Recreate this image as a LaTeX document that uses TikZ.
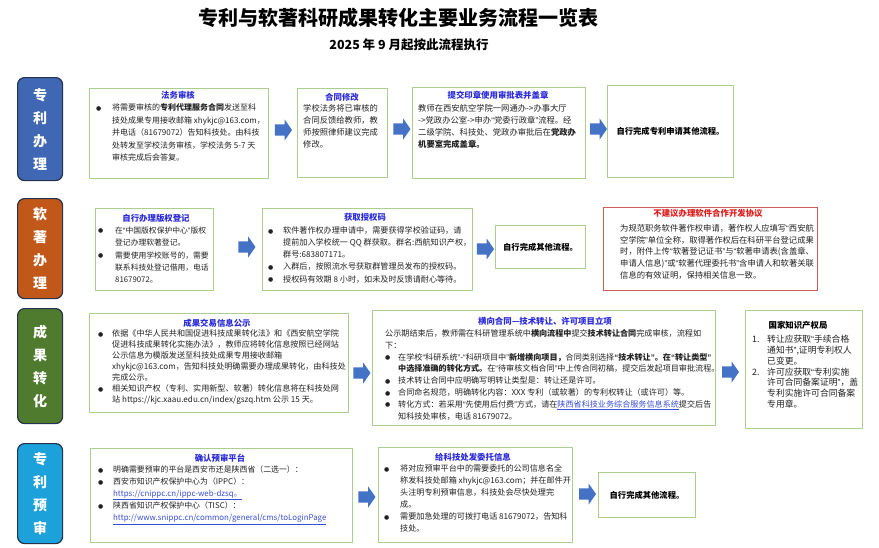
\documentclass[tikz,border=0pt]{standalone}
\usepackage{fontspec}
\setmainfont{Noto Sans CJK SC}
\newfontfamily\dvs{DejaVu Sans}
\newfontfamily\lat{Liberation Sans}
\usetikzlibrary{shapes.arrows}
\definecolor{arrowblue}{HTML}{4472C4}
\definecolor{boxgreen}{HTML}{A9D08E}
\definecolor{boxred}{HTML}{D05A5A}
\definecolor{tblue}{HTML}{2B2BD9}
\definecolor{tred}{HTML}{E01B1B}
\definecolor{linkblue}{HTML}{3A4FD6}
\definecolor{txtc}{HTML}{222222}
\definecolor{lblue}{HTML}{3F67B3}
\definecolor{lorange}{HTML}{C2571A}
\definecolor{lgreen}{HTML}{4F7B2E}
\definecolor{lcyan}{HTML}{1DA1DB}
\definecolor{ledge}{HTML}{25334F}
\newcommand\bl[1]{\makebox[#1][l]{\raisebox{0.3pt}{\dvs\fontsize{6}{6}\selectfont ●}}}
\newcommand\ind[1]{\hspace*{#1}}
\newcommand\oq{{\lat “}}
\newcommand\cq{{\lat ”}}
\newcommand\link[1]{\textcolor{linkblue}{\underline{#1}}}
\tikzset{
  lab/.style={draw=ledge, line width=1.2pt, rounded corners=7pt, minimum width=45pt,
    anchor=north west, inner sep=0pt, text=white, font=\fontsize{14}{23}\selectfont\bfseries, align=center},
  gbox/.style={draw=boxgreen, line width=1pt, anchor=north west, inner sep=0pt},
  rbox/.style={draw=boxred, line width=1pt, anchor=north west, inner sep=0pt},
  btitle/.style={inner sep=0pt, text=tblue, font=\fontsize{8.4}{10}\selectfont\bfseries},
  txt/.style={anchor=north west, inner sep=0pt, align=left, text=txtc},
  done/.style={inner sep=0pt, text=black, font=\fontsize{8.3}{10}\selectfont\bfseries},
  barrow/.style={single arrow, fill=arrowblue, draw=none, minimum height=17pt, minimum width=21pt,
    single arrow head extend=5pt, single arrow head indent=0pt, single arrow tip angle=110,
    inner xsep=0pt, inner ysep=5.5pt}
}
\begin{document}
\begin{tikzpicture}[x=1pt,y=-1pt]
\useasboundingbox (0,0) rectangle (879,547);
\fill[white] (0,0) rectangle (879,547);

% titles
\node[font=\fontsize{20}{24}\selectfont\bfseries] (title) at (398,18) {专利与软著科研成果转化主要业务流程一览表};
\node[font=\fontsize{12.5}{14}\selectfont\bfseries] (sub) at (409,45) {2025 年 9 月起按此流程执行};

% left labels
\node[lab, fill=lblue, minimum height=103pt] (L1) at (17,77) {专\\利\\办\\理};
\node[lab, fill=lorange, minimum height=100pt] (L2) at (17,198) {软\\著\\办\\理};
\node[lab, fill=lgreen, minimum height=115pt] (L3) at (17,308) {成\\果\\转\\化};
\node[lab, fill=lcyan, minimum height=100pt] (L4) at (17,443) {专\\利\\预\\审};

% ---------- row 1 ----------
\node[gbox, minimum width=179pt, minimum height=90pt] (b1) at (89,88) {};
\node[btitle] (h1) at (178,95) {法务审核};
\node[txt, font=\fontsize{8}{12.5}\selectfont] (t1) at (96,103.5) {%
\bl{16pt}将需要审核的\textbf{专利代理服务合同}发送至科\\
\ind{16pt}技处成果专用接收邮箱 xhykjc@163.com，\\
\ind{16pt}并电话（81679072）告知科技处。由科技\\
\ind{16pt}处转发至学校法务审核，学校法务 5-7 天\\
\ind{16pt}审核完成后会答复。};

\node[gbox, minimum width=90pt, minimum height=89pt] (b2) at (297,88) {};
\node[btitle] (h2) at (342,97) {合同修改};
\node[txt, font=\fontsize{8.3}{12}\selectfont] (t2) at (303,104.3) {%
学校法务将已审核的\\合同反馈给教师，教\\师按照律师建议完成\\修改。};

\node[gbox, minimum width=173pt, minimum height=91pt] (b3) at (412,87) {};
\node[btitle] (h3) at (498,95) {提交印章使用审批表并盖章};
\node[txt, font=\fontsize{8.3}{12}\selectfont] (t3) at (418,104.3) {%
教师在西安航空学院一网通办->办事大厅\\
->党政办公室->申办\oq 党委行政章\cq 流程。经\\
二级学院、科技处、党政办审批后在\textbf{党政办}\\
\textbf{机要室完成盖章。}};

\node[gbox, minimum width=126pt, minimum height=92pt] (b4) at (607,85) {};
\node[done] (t4) at (b4.center) {自行完成专利申请其他流程。};

\node[barrow] (a1) at (281.5,130) {};
\node[barrow] (a2) at (400,129) {};
\node[barrow] (a3) at (596.5,129) {};

% ---------- row 2 ----------
\node[gbox, minimum width=118pt, minimum height=82pt] (b5) at (95,208) {};
\node[btitle] (h5) at (156,218) {自行办理版权登记};
\node[txt, font=\fontsize{7.8}{12.4}\selectfont] (t5) at (98,226.5) {%
\bl{17pt}在\oq 中国版权保护中心\cq 版权\\
\ind{17pt}登记办理软著登记。\\
\bl{17pt}需要使用学校账号的，需要\\
\ind{17pt}联系科技处登记借用，电话\\
\ind{17pt}81679072。};

\node[gbox, minimum width=210pt, minimum height=82pt] (b6) at (262,208) {};
\node[btitle] (h6) at (365,217) {获取授权码};
\node[txt, font=\fontsize{8.1}{12.2}\selectfont] (t6) at (268,226.3) {%
\bl{15pt}软件著作权办理申请中，需要获得学校验证码，请\\
\ind{15pt}提前加入学校统一 QQ 群获取。群名:西航知识产权，\\
\ind{15pt}群号:683807171。\\
\bl{15pt}入群后，按照流水号获取群管理员发布的授权码。\\
\bl{15pt}授权码有效期 8 小时，如未及时反馈请耐心等待。};

\node[gbox, minimum width=90pt, minimum height=43pt] (b7) at (495,225) {};
\node[done] (t7) at (b7.center) {自行完成其他流程。};

\node[rbox, minimum width=214pt, minimum height=83pt] (b8) at (603,207) {};
\node[btitle, text=tred] (h8) at (708,213) {不建议办理软件合作开发协议};
\node[txt, font=\fontsize{8.3}{11.7}\selectfont] (t8) at (620,224.3) {%
为规范职务软件著作权申请，著作权人应填写\oq 西安航\\
空学院\cq 单位全称，取得著作权后在科研平台登记成果\\
时，附件上传\oq 软著登记证书\cq 与\oq 软著申请表(含盖章、\\
申请人信息)\cq 或\oq 软著代理委托书\cq 含申请人和软著关联\\
信息的有效证明，保持相关信息一致。};

\node[barrow] (a4) at (245,247) {};
\node[barrow] (a5) at (483.5,249) {};

% ---------- row 3 ----------
\node[gbox, minimum width=259pt, minimum height=99pt] (b9) at (89,313) {};
\node[btitle] (h9) at (217,323) {成果交易信息公示};
\node[txt, font=\fontsize{8.1}{11}\selectfont] (t9) at (98,329.3) {%
\bl{14pt}依据《中华人民共和国促进科技成果转化法》和《西安航空学院\\
\ind{14pt}促进科技成果转化实施办法》，教师应将转化信息按照已经网站\\
\ind{14pt}公示信息为模版发送至科技处成果专用接收邮箱\\
\ind{14pt}xhykjc@163.com，告知科技处明确需要办理成果转化，由科技处\\
\ind{14pt}完成公示。\\
\bl{14pt}相关知识产权（专利、实用新型、软著）转化信息将在科技处网\\
\ind{14pt}站 https://kjc.xaau.edu.cn/index/gszq.htm 公示 15 天。};

\node[gbox, minimum width=343pt, minimum height=115pt] (b10) at (372,310) {};
\node[btitle] (h10) at (545,321) {横向合同—技术转让、许可项目立项};
\node[txt, font=\fontsize{8.1}{11.8}\selectfont] (t10) at (385,329.3) {%
公示期结束后，教师需在科研管理系统中\textbf{横向流程中}提交\textbf{技术转让合同}完成审核，流程如\\
下：\\
\bl{13pt}在学校\oq 科研系统\cq -\oq 科研项目中\cq \textbf{新增横向项目，}合同类别选择\textbf{\oq 技术转让\cq 。在\oq 转让类型\cq}\\
\ind{13pt}\textbf{中选择准确的转化方式。}在\oq 待审核文档合同\cq 中上传合同初稿，提交后发起项目审批流程。\\
\bl{13pt}技术转让合同中应明确写明转让类型是：转让还是许可。\\
\bl{13pt}合同命名规范，明确转化内容：XXX 专利（或软著）的专利权转让（或许可）等。\\
\bl{13pt}转化方式：若采用\oq 先使用后付费\cq 方式，请在\link{陕西省科技业务综合服务信息系统}提交后告\\
\ind{13pt}知科技处审核，电话 81679072。};

\node[gbox, minimum width=117pt, minimum height=118pt] (b11) at (745,310) {};
\node[btitle, text=black] (h11) at (798,325) {国家知识产权局};
\node[txt, font=\fontsize{8.8}{10.8}\selectfont] (t11) at (752,335) {%
\makebox[15pt][l]{1.}转让应获取\oq 手续合格\\
\ind{15pt}通知书\cq ,证明专利权人\\
\ind{15pt}已变更。\\
\makebox[15pt][l]{2.}许可应获取\oq 专利实施\\
\ind{15pt}许可合同备案证明\cq ，盖\\
\ind{15pt}专利实施许可合同备案\\
\ind{15pt}专用章。};

\node[barrow] (a6) at (360,373) {};
\node[barrow] (a7) at (728.5,372) {};

% ---------- row 4 ----------
\node[gbox, minimum width=262pt, minimum height=94pt] (b12) at (90,448) {};
\node[btitle] (h12) at (220,458) {确认预审平台};
\node[txt, font=\fontsize{7.9}{12}\selectfont] (t12) at (98,465.4) {%
\bl{15pt}明确需要预审的平台是西安市还是陕西省（二选一）：\\
\bl{15pt}西安市知识产权保护中心为（IPPC）：\\
\ind{15pt}\link{https://cnippc.cn/ippc-web-dzsq。}\\
\bl{15pt}陕西省知识产权保护中心（TISC）：\\
\ind{15pt}\link{http://www.snippc.cn/common/general/cms/toLoginPage}};

\node[gbox, minimum width=194pt, minimum height=95pt] (b13) at (378,447) {};
\node[btitle] (h13) at (473,457) {给科技处发委托信息};
\node[txt, font=\fontsize{8.1}{12}\selectfont] (t13) at (384,464.3) {%
\bl{16pt}将对应预审平台中的需要委托的公司信息名全\\
\ind{16pt}称发科技处邮箱 xhykjc@163.com；并在邮件开\\
\ind{16pt}头注明专利预审信息，科技处会尽快处理完\\
\ind{16pt}成。\\
\bl{16pt}需要加急处理的可拨打电话 81679072，告知科\\
\ind{16pt}技处。};

\node[gbox, minimum width=97pt, minimum height=45pt] (b14) at (598,472) {};
\node[done] (t14) at (b14.center) {自行完成其他流程。};

\node[barrow] (a8) at (365,497) {};
\node[barrow] (a9) at (585.5,494) {};
\end{tikzpicture}
\end{document}
